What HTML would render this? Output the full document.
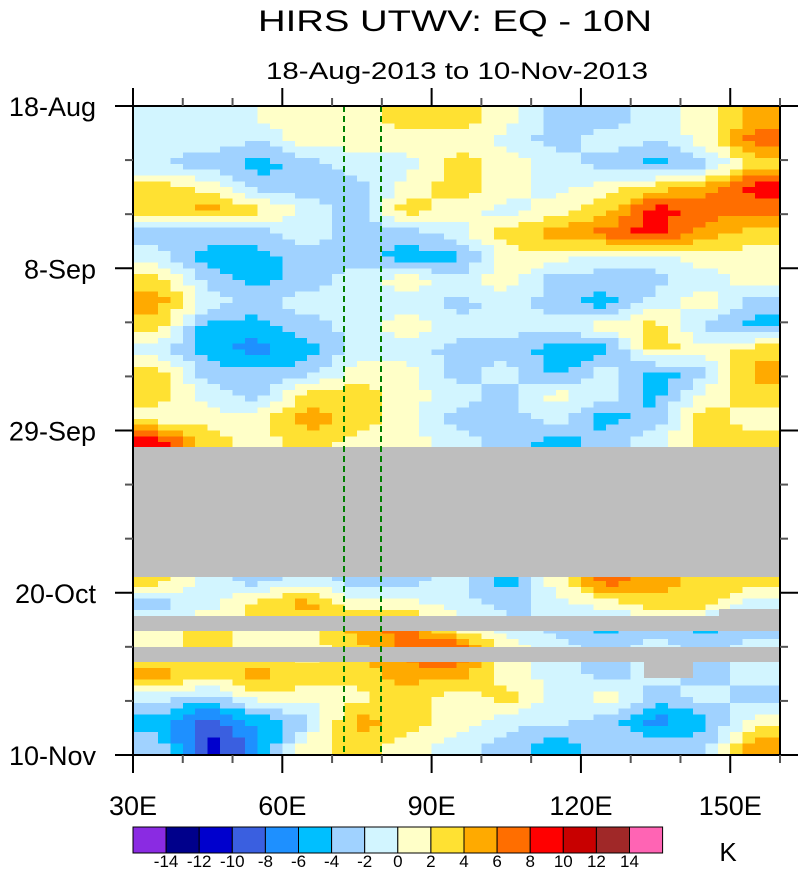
<!DOCTYPE html>
<html><head><meta charset="utf-8"><style>
html,body{margin:0;padding:0;background:#fff;width:800px;height:869px;overflow:hidden}
svg{display:block;font-family:"Liberation Sans",sans-serif}
</style></head><body>
<svg id="chart" width="800" height="869" viewBox="0 0 800 869">
<text x="455" y="31" font-size="30" text-anchor="middle" textLength="394" lengthAdjust="spacingAndGlyphs">HIRS UTWV: EQ - 10N</text>
<text x="457" y="79" font-size="24" text-anchor="middle" textLength="382" lengthAdjust="spacingAndGlyphs">18-Aug-2013 to 10-Nov-2013</text>
<g id="cells" shape-rendering="crispEdges"></g>
<g id="missing"></g>
<line x1="344" y1="106" x2="344" y2="755" stroke="#008000" stroke-width="2" stroke-dasharray="6,4"/>
<line x1="381" y1="106" x2="381" y2="755" stroke="#008000" stroke-width="2" stroke-dasharray="6,4"/>
<rect x="133" y="106" width="647" height="649" fill="none" stroke="#000" stroke-width="2"/>
<g id="axes"></g>
<g id="cbar"></g>
<text x="728" y="861" font-size="26" text-anchor="middle">K</text>
</svg>
<script>
const lonStarts=[30,40,50,60,70,80,90,100,110,120,130,140,150];
const dayStarts=[0,3,6,9,12,15,18,21,24,27,30,33,36,39,42,45,48,51,54,57,60,63,66,69,72,75,78,81];
const r00=[-2,-1,0,2,1,3,3,1,-3,-3,-1,1,5];
const r01=[-1,-1,-2,1,1,1,1,-1,-3,-1,-2,1,7];
const r02=[-2,-3,-5,-3,-1,-1,3,1,-1,-3,-5,-3,3];
const r03=[3,1,-3,-3,-3,1,3,1,-1,1,3,5,9];
const r04=[3,5,3,-1,-3,3,1,-1,1,3,9,7,7];
const r05=[-3,-3,-3,-1,-3,-3,-1,3,5,7,9,5,3];
const r06=[-1,-5,-5,-3,-3,-5,-5,1,1,-1,-1,1,1];
const r07=[3,-3,-5,-3,-1,1,-1,1,-3,-3,-3,-1,1];
const r08=[5,-1,-3,-1,-1,-1,-3,-1,-3,-5,-1,1,-3];
const r09=[3,-5,-5,-3,-1,1,-1,-1,-1,1,3,-3,-5];
const r10=[-1,-5,-7,-5,-1,-1,-3,-3,-5,-5,3,1,3];
const r11=[3,-3,-3,-3,1,1,-3,-1,-5,-1,-5,-3,5];
const r12=[3,-1,-3,3,3,1,-1,-3,1,-1,-5,1,3];
const r13=[1,1,1,5,3,1,-3,-3,-1,-5,-3,3,1];
const r14=[9,3,1,3,1,1,-1,-3,-5,-3,-1,3,3];
const r15=[null,null,null,null,null,null,null,null,null,null,null,null,null];
const r16=[null,null,null,null,null,null,null,null,null,null,null,null,null];
const r17=[null,null,null,null,null,null,null,null,null,null,null,null,null];
const r18=[null,null,null,null,null,null,null,null,null,null,null,null,null];
const r19=[null,null,null,null,null,null,null,null,null,null,null,null,null];
const r20=[3,-1,-3,-1,-3,-3,-1,-5,1,7,5,3,3];
const r21=[-3,-1,3,5,1,1,-1,-3,-1,1,3,3,-1];
const r22=[1,3,1,1,5,7,1,-1,-3,-5,-3,-5,-3];
const r23=[1,3,1,1,3,7,9,1,-1,-3,-1,-3,-1];
const r24=[5,3,5,3,3,5,5,1,-1,-3,-1,-3,-1];
const r25=[-1,-3,1,1,1,3,1,3,-1,1,-3,-1,-3];
const r26=[-5,-9,-5,-3,5,3,1,-1,-1,-3,-7,-5,1];
const r27=[-3,-11,-7,1,3,1,-1,-3,-5,-3,-3,-3,5];
const field=[r00,r01,r02,r03,r04,r05,r06,r07,r08,r09,r10,r11,r12,r13,r14,r15,r16,r17,r18,r19,r20,r21,r22,r23,r24,r25,r26,r27];
const levels=[-14,-12,-10,-8,-6,-4,-2,0,2,4,6,8,10,12,14];
const levelLabels=["-14","-12","-10","-8","-6","-4","-2","0","2","4","6","8","10","12","14"];
const palette=["#8A2BE2","#00008B","#0000CD","#3A5FE0","#1E90FF","#00BFFF","#A0D2FF","#D2F5FF","#FFFFC8","#FFE132","#FFAA00","#FF6E00","#FF0000","#C80000","#A02828","#FF64B4"];
const xTickVals=[30,60,90,120,150];
const xTickLabels=["30E","60E","90E","120E","150E"];
const yTickVals=[0,21,42,63,84];
const yTickLabels=["18-Aug","8-Sep","29-Sep","20-Oct","10-Nov"];

const NS="http://www.w3.org/2000/svg";
const X0=133,X1=780,Y0=106,Y1=755;
const xs=l=>X0+(l-30)/130*(X1-X0);
const ys=d=>Y0+d/84*(Y1-Y0);
function colorFor(v){let i=0;while(i<levels.length&&v>=levels[i])i++;return palette[i];}
function mk(tag,attrs,parent){const e=document.createElementNS(NS,tag);for(const k in attrs)e.setAttribute(k,attrs[k]);parent.appendChild(e);return e;}
function val(ri,ci,own){
  ri=Math.max(0,Math.min(field.length-1,ri));ci=Math.max(0,Math.min(lonStarts.length-1,ci));
  const v=field[ri][ci];return v===null?own:v;
}
const cells=document.getElementById('cells');
const SUB=4;
field.forEach((row,ri)=>{row.forEach((v,ci)=>{
  if(v===null)return;
  const x=xs(lonStarts[ci]),x2=xs(lonStarts[ci]+10),y=ys(dayStarts[ri]),y2=ys(dayStarts[ri]+3);
  const w=(x2-x)/SUB,h=(y2-y)/SUB;
  for(let a=0;a<SUB;a++)for(let b=0;b<SUB;b++){
    const fy=(a+0.5)/SUB-0.5,fx=(b+0.5)/SUB-0.5;
    const dy=fy<0?-1:1,dx=fx<0?-1:1,ty=Math.abs(fy),tx=Math.abs(fx);
    const v00=v,v01=val(ri,ci+dx,v),v10=val(ri+dy,ci,v),v11=val(ri+dy,ci+dx,v);
    const iv=(v00*(1-tx)+v01*tx)*(1-ty)+(v10*(1-tx)+v11*tx)*ty;
    const r=mk('rect',{x:x+b*w,y:y+a*h,width:w+0.6,height:h+0.6,fill:colorFor(iv)},cells);
    
    
  }
});});

const miss=document.getElementById('missing');
[[133,447,647,130],[133,616,586,15],[719,609,61,22],[133,647,647,15],[644,647,49,31]].forEach(b=>{
  const r=mk('rect',{x:b[0],y:b[1],width:b[2],height:b[3],fill:'#BEBEBE'},miss);
  
  
});

const axes=document.getElementById('axes');
for(let d=0;d<=84;d+=7){
  const y=ys(d),major=d%21===0,L=major?18:8;
  const t1=mk('line',{x1:X0-L,y1:y,x2:X0,y2:y,stroke:major?'#000':'#555','stroke-width':2},axes);
  
  
  const t2=mk('line',{x1:X1,y1:y,x2:X1+L,y2:y,stroke:major?'#000':'#555','stroke-width':2},axes);
  
  
}
yTickVals.forEach((d,i)=>{
  const t=mk('text',{x:96,y:ys(d)+10,'font-size':27,'text-anchor':'end'},axes);
  t.textContent=yTickLabels[i];
  
  
});
for(let l=30;l<=160;l+=10){
  const x=xs(l),major=(l%30===0),L=major?18:8;
  const t=mk('line',{x1:x,y1:Y1,x2:x,y2:Y1+L,stroke:major?'#000':'#555','stroke-width':2},axes);
  
  
  const t2=mk('line',{x1:x,y1:Y0-L,x2:x,y2:Y0,stroke:major?'#000':'#555','stroke-width':2},axes);
  
  
}
xTickVals.forEach((l,i)=>{
  const t=mk('text',{x:xs(l),y:815,'font-size':27,'text-anchor':'middle'},axes);
  t.textContent=xTickLabels[i];
  
  
});

const cb=document.getElementById('cbar');
const cbX=133,cbW=33.1,cbY=827,cbH=26;
palette.forEach((c,i)=>{
  const r=mk('rect',{x:cbX+i*cbW,y:cbY,width:cbW,height:cbH,fill:c,stroke:'#000','stroke-width':1},cb);
  
  
});
levelLabels.forEach((s,i)=>{
  const t=mk('text',{x:cbX+(i+1)*cbW,y:867,'font-size':17,'text-anchor':'middle'},cb);
  t.textContent=s;
  
  
});
</script>
</body></html>
